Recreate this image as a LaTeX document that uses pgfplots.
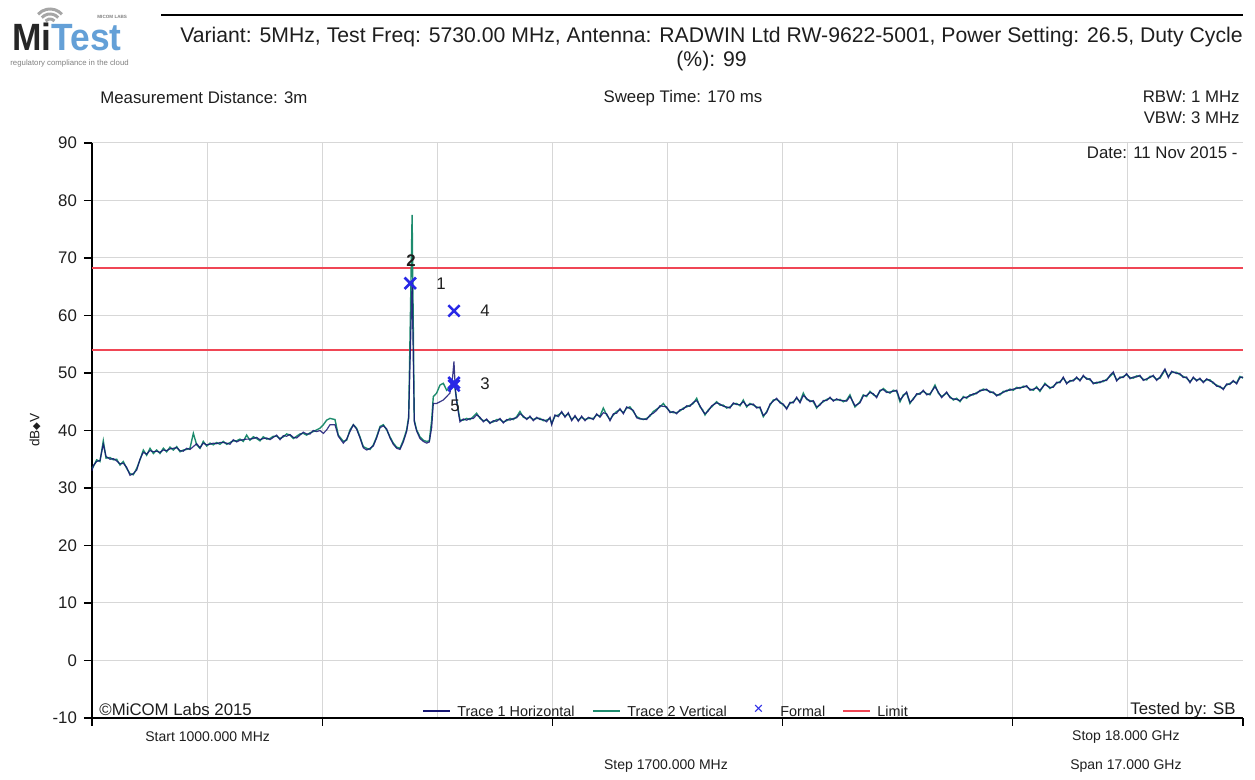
\documentclass[border=0pt]{standalone}
\usepackage{pgfplots}
\pgfplotsset{compat=1.18}
\usepackage{pgfplotstable}
\usepackage{fontspec}
\setmainfont{Liberation Sans}
\newfontfamily\dejavu{DejaVu Sans}
\definecolor{navytr}{RGB}{22,22,115}
\definecolor{tealtr}{RGB}{30,140,110}
\definecolor{limred}{RGB}{240,70,85}
\definecolor{mblue}{RGB}{40,40,230}
\definecolor{gridc}{RGB}{215,215,215}
\definecolor{txt}{RGB}{30,30,30}
\definecolor{logoblue}{RGB}{100,160,215}

\pgfplotstableread{
f v h
1000 33.4 33.0
1020 33.7 33.9
1069 34.9 34.6
1118 34.6 34.8
1167 38.2 37.6
1207 35.2 35.5
1266 35.3 35.0
1315 34.9 35.1
1364 35.0 34.7
1414 34.0 34.2
1463 34.6 34.3
1512 33.4 33.6
1561 32.5 32.2
1610 32.3 32.5
1660 33.4 33.1
1709 34.9 35.0
1758 36.6 36.2
1807 35.7 35.9
1857 36.9 36.5
1906 36.0 36.3
1955 36.6 36.4
2004 36.0 36.2
2054 36.9 36.6
2103 36.3 36.5
2152 37.1 36.8
2201 36.6 36.9
2251 37.2 37.0
2300 36.3 36.5
2349 36.6 36.4
2398 36.7 36.9
2447 36.9 36.7
2497 39.5 37.2
2546 37.5 37.7
2595 36.9 37.0
2644 38.1 37.8
2694 37.3 37.5
2743 37.8 37.6
2792 37.5 37.8
2841 37.9 37.7
2890 37.6 37.9
2940 38.1 37.9
2989 37.6 37.8
3038 37.9 37.6
3087 38.2 38.4
3137 38.2 38.0
3186 38.5 38.3
3235 38.1 38.4
3284 39.2 38.5
3333 38.3 38.5
3383 38.9 38.6
3432 38.6 38.8
3481 38.2 38.4
3530 38.9 38.6
3580 38.5 38.7
3629 38.6 38.4
3678 39.0 38.8
3727 39.0 39.2
3777 38.6 38.4
3826 38.9 39.1
3875 39.4 39.0
3924 39.2 39.3
3974 38.6 38.8
4023 39.0 38.7
4072 39.4 39.2
4121 39.5 39.7
4170 39.2 39.4
4220 39.6 39.4
4269 39.8 40.0
4318 40.1 39.8
4367 40.4 40.0
4417 41.0 39.5
4466 41.8 40.1
4515 42.1 41.0
4589 41.9 41.0
4638 39.2 39.0
4712 38.1 37.8
4761 38.3 38.5
4810 40.1 39.8
4860 41.0 41.0
4909 40.4 40.2
4958 38.9 38.7
5007 37.2 37.0
5057 36.9 36.6
5106 36.7 36.9
5155 37.5 37.3
5204 38.9 38.7
5254 40.7 40.5
5303 41.0 40.8
5352 40.1 40.3
5401 38.9 38.7
5450 37.8 37.6
5500 37.1 36.9
5549 36.9 36.7
5598 38.3 38.0
5647 40.1 39.8
5677 42.4 42.0
5728 77.5 66.0
5760 41.8 41.5
5795 40.1 39.9
5844 38.9 38.6
5893 38.3 38.1
5943 38.1 37.8
5982 38.2 38.0
6017 41.8 40.5
6041 45.9 44.7
6090 46.5 44.7
6140 47.9 45.0
6189 48.2 45.3
6238 47.0 45.9
6287 47.6 46.5
6327 48.2 49.4
6346 48.5 52.0
6366 47.0 47.3
6386 45.3 45.0
6410 43.6 43.2
6435 41.8 41.5
6484 41.8 42.0
6534 42.1 41.8
6583 41.9 42.1
6632 42.4 42.1
6681 43.0 42.7
6731 42.1 42.3
6780 41.7 41.5
6829 41.8 42.0
6878 41.4 41.2
6928 41.5 41.7
6977 41.9 41.6
7026 41.9 42.1
7075 41.5 41.3
7125 41.7 41.9
7174 42.1 41.8
7223 41.9 42.1
7272 42.4 42.2
7321 43.3 42.9
7371 42.3 42.5
7420 42.1 41.9
7469 42.3 42.5
7518 41.9 41.7
7568 42.1 42.3
7617 42.1 41.9
7666 41.7 41.9
7715 41.8 41.5
7765 42.1 42.3
7789 41.2 41.0
7838 42.5 42.7
7888 42.7 42.4
7937 43.1 43.3
7986 42.5 42.3
8035 42.9 43.1
8085 41.9 41.7
8134 42.4 42.6
8183 41.8 41.6
8232 42.3 42.5
8281 41.9 41.7
8331 42.1 42.3
8405 42.1 41.9
8454 42.7 42.9
8503 42.5 42.3
8552 43.9 43.1
8601 42.7 42.9
8651 41.9 41.7
8700 42.7 42.9
8749 43.3 43.0
8798 43.6 43.8
8848 43.1 42.9
8897 43.9 44.1
8946 44.1 43.8
8995 43.3 43.5
9045 42.4 42.2
9094 42.1 42.0
9143 41.9 42.0
9192 42.1 41.9
9241 42.5 42.7
9291 43.3 43.0
9340 43.7 43.5
9389 44.1 44.3
9438 44.7 44.2
9488 43.9 44.1
9537 43.3 43.1
9586 43.1 43.3
9635 43.1 42.9
9685 43.4 43.6
9734 43.9 43.7
9783 44.1 44.3
9832 44.4 44.2
9881 44.7 44.9
9931 45.6 45.2
9980 44.1 44.3
10019 43.6 43.4
10054 42.7 42.9
10103 43.6 43.4
10152 44.1 44.3
10226 45.0 44.8
10275 44.4 44.6
10325 44.4 44.2
10374 43.9 44.1
10423 44.1 43.9
10472 44.6 44.8
10521 44.7 44.5
10571 44.3 44.5
10620 45.3 45.0
10669 44.1 44.3
10718 44.7 44.5
10768 44.4 44.6
10817 44.1 43.9
10866 43.9 44.1
10915 42.4 42.6
10965 43.3 43.1
11014 44.4 44.6
11063 45.3 45.1
11112 45.4 45.6
11161 45.0 44.8
11211 44.4 44.6
11260 43.9 43.7
11309 44.7 44.9
11358 45.0 44.8
11408 45.6 45.8
11457 45.0 44.8
11506 46.5 46.1
11555 45.4 45.6
11605 45.2 45.0
11654 45.0 45.2
11703 43.9 44.1
11752 44.6 44.4
11801 45.0 45.2
11851 45.4 45.2
11900 45.6 45.8
11949 45.3 45.1
11998 45.3 45.5
12048 45.4 45.2
12097 45.0 45.2
12146 45.3 45.1
12195 46.2 45.9
12244 44.7 44.9
12269 44.1 44.3
12343 45.0 44.8
12392 46.2 46.0
12441 45.9 46.1
12491 46.8 46.6
12540 46.2 46.4
12589 45.9 45.7
12638 46.8 47.0
12688 47.3 47.1
12737 46.8 46.6
12786 46.5 46.7
12835 47.0 46.8
12885 46.8 47.0
12934 45.0 45.3
12983 46.2 46.0
13032 46.5 46.7
13081 44.7 44.9
13131 45.6 45.4
13180 46.2 46.4
13229 46.5 46.3
13278 46.8 47.0
13328 46.4 46.2
13377 46.2 46.4
13451 47.9 47.6
13500 46.5 46.7
13549 45.9 45.7
13623 46.5 46.7
13672 45.9 45.7
13721 45.3 45.5
13771 45.6 45.4
13820 45.0 45.2
13869 45.9 45.7
13918 45.6 45.8
13968 46.2 46.0
14017 46.2 46.4
14066 46.6 46.4
14115 46.8 47.0
14165 47.2 47.0
14214 47.0 47.2
14263 46.8 46.6
14312 46.5 46.7
14361 46.2 46.0
14411 46.2 46.4
14460 46.8 46.6
14509 46.8 47.0
14558 47.2 47.0
14608 47.0 47.2
14657 47.5 47.3
14706 47.3 47.5
14755 47.7 47.5
14805 47.6 47.8
14854 47.2 47.0
14903 47.0 47.2
14952 47.6 47.4
15001 46.8 47.0
15075 48.2 48.0
15149 47.3 47.5
15198 47.7 47.5
15247 48.2 48.4
15297 48.5 48.3
15346 49.1 49.3
15395 48.3 48.1
15444 48.5 48.7
15494 48.8 48.6
15543 49.1 49.3
15592 48.8 48.6
15641 49.4 49.6
15691 49.1 48.9
15740 48.8 49.0
15789 48.3 48.1
15838 48.2 48.4
15887 48.5 48.3
15937 48.5 48.7
15986 48.9 48.7
16035 49.4 49.6
16084 50.0 50.2
16134 48.8 48.6
16183 49.1 49.3
16232 49.4 49.2
16281 49.7 49.9
16331 49.2 49.0
16380 49.1 49.3
16429 49.5 49.3
16478 49.4 49.6
16527 48.9 48.7
16577 48.8 49.0
16626 49.4 49.2
16675 49.4 49.6
16724 48.9 48.7
16774 49.1 49.3
16847 50.5 50.7
16897 49.4 49.2
16946 50.1 50.3
17020 50.1 49.9
17069 49.7 49.9
17118 49.4 49.2
17167 49.1 49.3
17217 48.5 48.3
17266 49.1 49.3
17315 48.8 48.6
17364 48.9 49.1
17414 48.5 48.3
17463 48.8 49.0
17512 48.8 48.6
17561 48.2 48.4
17610 47.9 47.7
17660 47.5 47.7
17709 47.3 47.1
17758 47.9 48.1
17807 48.2 48.0
17857 48.5 48.7
17906 48.3 48.1
17955 49.4 49.2
18000 49.1 49.3
}\traces

\begin{document}
\begin{tikzpicture}[x=0.5pt,y=0.5pt]
\path[use as bounding box] (0,0) rectangle (1255,780);
\begin{axis}[
  at={(46pt,31pt)}, anchor=south west,
  scale only axis, width=575.5pt, height=287.5pt,
  xmin=1000, xmax=18000, ymin=-10, ymax=90,
  axis x line=bottom, axis y line=left,
  axis line style={-, black, line width=0.8pt},
  tick align=outside,
  major tick length=4pt,
  tick style={black, line width=0.6pt},
  xtick={1000,4400,7800,11200,14600},
  extra x ticks={18000},
  extra x tick style={grid=none},
  extra x tick labels={},
  xticklabels={},
  scaled x ticks=false,
  minor xtick={2700,6100,9500,12900,16300},
  minor tick length=0pt,
  ytick={-10,0,...,90},
  grid=both,
  major grid style={gridc, line width=0.5pt},
  minor grid style={gridc, line width=0.5pt},
  /pgf/number format/assume math mode=true,
  yticklabel style={font=\fontsize{8.4pt}{10pt}\selectfont, text=txt},
  clip=false,
]
\addplot[limred, line width=1pt] coordinates {(1000,68.2) (18000,68.2)};
\addplot[limred, line width=1pt] coordinates {(1000,54) (18000,54)};
\addplot[tealtr, line width=0.7pt] table[x=f, y=v] {\traces};
\addplot[navytr, line width=0.6pt, opacity=0.85] table[x=f, y=h] {\traces};
\addplot[only marks, mark=x, mark size=4pt, mark options={line width=1.3pt}, color=mblue]
  coordinates {(5700,65.6) (6347,60.8) (6347,48.3) (6347,47.8)};
\node[font=\fontsize{8.4pt}{10pt}\selectfont\bfseries, text=txt] at (5712,69.6) {2};
\node[font=\fontsize{8.4pt}{10pt}\selectfont, text=txt] at (6155,65.6) {1};
\node[font=\fontsize{8.4pt}{10pt}\selectfont, text=txt] at (6805,60.8) {4};
\node[font=\fontsize{8.4pt}{10pt}\selectfont, text=txt] at (6805,48.2) {3};
\node[font=\fontsize{8.4pt}{10pt}\selectfont, text=txt] at (6362,44.3) {5};
\end{axis}

% logo
\foreach \r in {6,11,16} \draw[gray!70, line width=1.5pt] ([shift={(42:\r)}]50,755) arc (42:138:\r);
\node[anchor=base west, inner sep=0pt] at (12,729) {\scalebox{0.93}[1]{\fontsize{19pt}{19pt}\selectfont\bfseries\color{black!85}Mi\color{logoblue}Test}};
\node[anchor=base west, inner sep=0pt, text=gray] at (97,761) {\fontsize{2.3pt}{3pt}\selectfont\bfseries MICOM LABS};
\node[anchor=base west, inner sep=0pt, text=gray] at (10,714) {\fontsize{3.9pt}{4pt}\selectfont regulatory compliance in the cloud};
\draw[black, line width=1.3pt] (161,765) -- (1243,765);

% titles
\node[text=txt, inner sep=0pt] at (711.5,743) {\fontsize{10.6pt}{12pt}\selectfont Variant: 5MHz, Test Freq: 5730.00 MHz, Antenna: RADWIN Ltd RW-9622-5001, Power Setting: 26.5, Duty Cycle};
\node[text=txt, inner sep=0pt] at (711.5,719) {\fontsize{10.6pt}{12pt}\selectfont (\%): 99};
\node[text=txt, inner sep=0pt, anchor=west] at (100,682) {\fontsize{8.4pt}{10pt}\selectfont Measurement Distance: 3m};
\node[text=txt, inner sep=0pt] at (683,682) {\fontsize{8.4pt}{10pt}\selectfont Sweep Time: 170 ms};
\node[text=txt, inner sep=0pt, anchor=east] at (1240,683) {\fontsize{8.4pt}{10pt}\selectfont RBW: 1 MHz};
\node[text=txt, inner sep=0pt, anchor=east] at (1240,662) {\fontsize{8.4pt}{10pt}\selectfont VBW: 3 MHz};
\node[text=txt, inner sep=0pt, anchor=east] at (1238,627) {\fontsize{8.4pt}{10pt}\selectfont Date: 11 Nov 2015 -};

% inner bottom texts and legend
\node[text=txt, inner sep=0pt, anchor=west] at (99,70) {\fontsize{8.4pt}{10pt}\selectfont ©MiCOM Labs 2015};
\node[text=txt, inner sep=0pt, anchor=east] at (1236,70) {\fontsize{8.4pt}{10pt}\selectfont Tested by: SB};
\draw[navytr, line width=1.2pt] (423,69) -- (450,69);
\node[text=txt, inner sep=0pt, anchor=west] at (457,69) {\fontsize{7.2pt}{9pt}\selectfont Trace 1 Horizontal};
\draw[tealtr, line width=1.2pt] (593,69) -- (620,69);
\node[text=txt, inner sep=0pt, anchor=west] at (627,69) {\fontsize{7.2pt}{9pt}\selectfont Trace 2 Vertical};
\node[text=mblue, inner sep=0pt] at (758.5,70) {\fontsize{8.5pt}{9pt}\selectfont ×};
\node[text=txt, inner sep=0pt, anchor=west] at (780,69) {\fontsize{7.2pt}{9pt}\selectfont Formal};
\draw[limred, line width=1.2pt] (843,69) -- (870,69);
\node[text=txt, inner sep=0pt, anchor=west] at (877,69) {\fontsize{7.2pt}{9pt}\selectfont Limit};

% below axis
\node[text=txt, inner sep=0pt, anchor=west] at (145,43) {\fontsize{7pt}{9pt}\selectfont Start 1000.000 MHz};
\node[text=txt, inner sep=0pt, anchor=east] at (1180,43) {\fontsize{7pt}{9pt}\selectfont Stop 18.000 GHz};
\node[text=txt, inner sep=0pt] at (666,14) {\fontsize{7pt}{9pt}\selectfont Step 1700.000 MHz};
\node[text=txt, inner sep=0pt, anchor=east] at (1182,14) {\fontsize{7pt}{9pt}\selectfont Span 17.000 GHz};

% y label
\node[text=txt, inner sep=0pt, rotate=90] at (35,350) {\fontsize{6.8pt}{8pt}\selectfont dB{\dejavu\fontsize{5pt}{8pt}\selectfont ◆}V};
\end{tikzpicture}
\end{document}
